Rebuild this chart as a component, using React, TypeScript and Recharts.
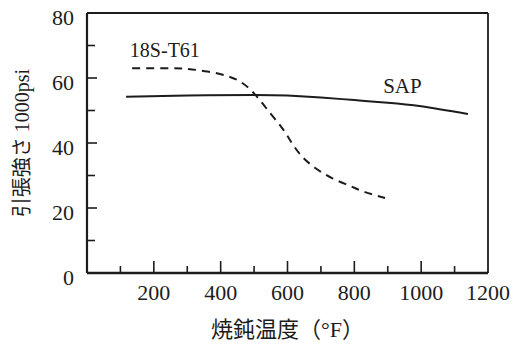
import { LineChart, Line, XAxis, YAxis, ReferenceLine, ReferenceDot } from "recharts";

// annealing temperature (°F) vs tensile strength (1000 psi)
const sapTemp = [117, 300, 500, 600, 700, 800, 900, 1000, 1140];
const sapStrength = [54.2, 54.6, 54.8, 54.6, 54.0, 53.2, 52.4, 51.3, 48.9];

const t61Temp = [135, 250, 300, 360, 420, 467, 509, 548, 584, 613, 643, 682, 733, 787, 832, 892];
const t61Strength = [63, 63, 62.8, 62.0, 60.6, 58.3, 54.2, 49.2, 44.6, 40, 35.9, 32.4, 29.2, 26.8, 24.9, 23.1];

const xTicks = [100, 200, 300, 400, 500, 600, 700, 800, 900, 1000, 1100, 1200];
const yTicks = [10, 20, 30, 40, 50, 60, 70, 80, 0];

const sapData = sapTemp.map((t, i) => ({ t, v: sapStrength[i] }));
const t61Data = t61Temp.map((t, i) => ({ t, v: t61Strength[i] }));

const INK = "#1c1c1c";
const SERIF = "'Liberation Serif', 'Times New Roman', 'DejaVu Serif', 'Noto Sans CJK JP', serif";

function XTick(props: any) {
  const { x, y, payload } = props;
  const v = payload.value;
  const major = v % 200 === 0;
  return (
    <g>
      {v < 1200 && (
        <line x1={x} x2={x} y1={y} y2={y - (major ? 12 : 7)} stroke={INK} strokeWidth={1.6} />
      )}
      {major && (
        <text x={x} y={y + 27} textAnchor="middle" style={{ fontSize: 22, fontFamily: SERIF }} fill={INK}>
          {v}
        </text>
      )}
    </g>
  );
}

function YTick(props: any) {
  const { x, y, payload } = props;
  const v = payload.value;
  const major = v % 20 === 0;
  return (
    <g>
      {v > 0 && v < 80 && (
        <line x1={x} x2={x + (major ? 10 : 8)} y1={y} y2={y} stroke={INK} strokeWidth={1.6} />
      )}
      {major && (
        <text x={x - 13} y={y + 12} textAnchor="end" style={{ fontSize: 22, fontFamily: SERIF }} fill={INK}>
          {v}
        </text>
      )}
    </g>
  );
}

export default function App() {
  return (
    <div style={{ position: "absolute", left: 0, top: 0, background: "#fff", fontFamily: SERIF }}>
      <LineChart width={518} height={345} margin={{ top: 13, right: 30, bottom: 0, left: 0 }}>
        <XAxis
          type="number"
          dataKey="t"
          domain={[0, 1200]}
          ticks={xTicks}
          interval={0}
          height={72}
          tickSize={0}
          tickMargin={0}
          tickLine={false}
          axisLine={{ stroke: INK, strokeWidth: 2.5 }}
          tick={<XTick />}
          label={{
            value: "焼鈍温度（°F）",
            position: "insideBottom",
            offset: 8,
            fill: INK,
            style: { fontSize: 22, fontFamily: SERIF },
          }}
        />
        <YAxis
          type="number"
          dataKey="v"
          domain={[0, 80]}
          ticks={yTicks}
          interval={0}
          width={87}
          tickSize={0}
          tickMargin={0}
          tickLine={false}
          axisLine={{ stroke: INK, strokeWidth: 2.2 }}
          tick={<YTick />}
          label={{
            value: "引張強さ 1000psi",
            angle: -90,
            position: "insideLeft",
            offset: 22,
            fill: INK,
            style: { textAnchor: "middle", fontSize: 20, fontFamily: SERIF },
          }}
        />
        <ReferenceLine y={80} stroke={INK} strokeWidth={1.8} />
        <ReferenceLine x={1200} stroke={INK} strokeWidth={1.8} />
        <Line
          data={sapData}
          dataKey="v"
          type="natural"
          stroke={INK}
          strokeWidth={2}
          dot={false}
          isAnimationActive={false}
        />
        <Line
          data={t61Data}
          dataKey="v"
          type="natural"
          stroke={INK}
          strokeWidth={2}
          strokeDasharray="8 6"
          dot={false}
          isAnimationActive={false}
        />
        <ReferenceDot
          x={233}
          y={68.6}
          r={0}
          fill="none"
          stroke="none"
          label={{ value: "18S-T61", position: "center", fill: INK, style: { fontSize: 20, fontFamily: SERIF } }}
        />
        <ReferenceDot
          x={944}
          y={57.6}
          r={0}
          fill="none"
          stroke="none"
          label={{ value: "SAP", position: "center", fill: INK, style: { fontSize: 21, fontFamily: SERIF } }}
        />
      </LineChart>
    </div>
  );
}
